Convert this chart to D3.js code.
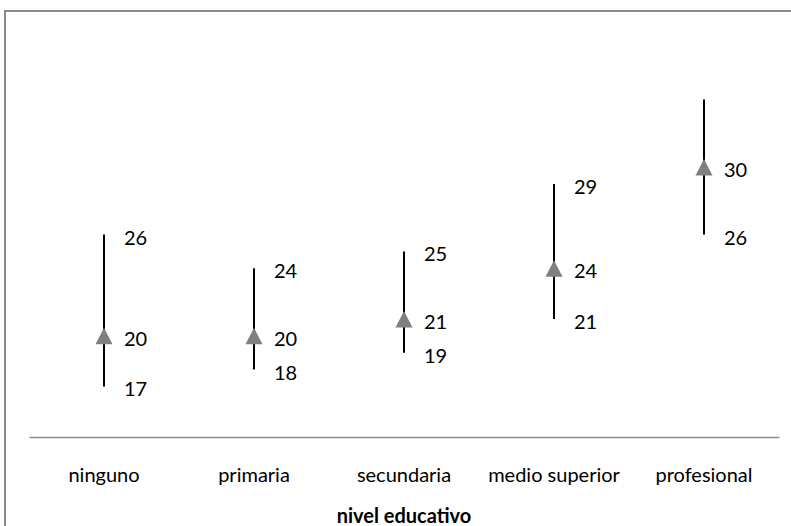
<!DOCTYPE html>
<html>
<head>
<meta charset="utf-8">
<script src="https://cdn.jsdelivr.net/npm/d3@7"></script>
<style>
  body { margin: 0; background: #fff; }
  svg { display: block; font-family: Lato, "Open Sans", sans-serif; }
</style>
</head>
<body>
<svg width="791" height="526"></svg>
<script>
// nivel educativo, valores maximo / promedio / minimo
const categories = ["ninguno", "primaria", "secundaria", "medio superior", "profesional"];
const highValues = [26, 24, 25, 29, 34];
const meanValues = [20, 20, 21, 24, 30];
const lowValues = [17, 18, 19, 21, 26];
// the top label of "profesional" is not shown in the chart
const highLabels = ["26", "24", "25", "29", null];

const data = categories.map((c, i) => ({
    cat: c, high: highValues[i], mean: meanValues[i], low: lowValues[i], highLabel: highLabels[i]
}));

const width = 791, height = 526;
const svg = d3.select("svg");

// chart frame (runs past the picture on the right and bottom)
svg.append("rect")
    .attr("x", 5).attr("y", 11)
    .attr("width", 820).attr("height", 560)
    .attr("fill", "none")
    .attr("stroke", "#8c8c8c")
    .attr("stroke-width", 2);

const x = d3.scaleBand()
    .domain(categories)
    .range([29, 779]);

const y = d3.scaleLinear()
    .domain([14, 38])
    .range([437, 32]);

// category axis
const xAxis = svg.append("g")
    .attr("transform", `translate(0,${y(14)})`)
    .call(d3.axisBottom(x).tickSize(0).tickSizeOuter(0).tickPadding(31));

xAxis.select(".domain")
    .attr("stroke", "#8c8c8c")
    .attr("stroke-width", 1.5);

xAxis.selectAll("text")
    .attr("font-family", "Lato, sans-serif")
    .attr("font-size", 20)
    .attr("fill", "#000");

// axis title
svg.append("text")
    .attr("x", (x.range()[0] + x.range()[1]) / 2)
    .attr("y", 523)
    .attr("text-anchor", "middle")
    .attr("font-size", 20)
    .attr("font-weight", "bold")
    .attr("fill", "#000")
    .text("nivel educativo");

const cx = d => x(d.cat) + x.bandwidth() / 2;

// high-low lines
svg.append("g")
    .selectAll("line")
    .data(data)
    .join("line")
    .attr("x1", cx).attr("x2", cx)
    .attr("y1", d => y(d.high))
    .attr("y2", d => y(d.low))
    .attr("stroke", "#000")
    .attr("stroke-width", 2);

// mean markers (triangles)
const tri = "M0,-8L8.5,8.5L-8.5,8.5Z";
svg.append("g")
    .selectAll("path")
    .data(data)
    .join("path")
    .attr("d", tri)
    .attr("transform", d => `translate(${cx(d)},${y(d.mean)})`)
    .attr("fill", "#808080");

// value labels
const labels = [];
data.forEach(d => {
    if (d.highLabel) labels.push({ d: d, v: d.high, t: d.highLabel });
    labels.push({ d: d, v: d.mean, t: String(d.mean) });
    labels.push({ d: d, v: d.low, t: String(d.low) });
});

svg.append("g")
    .selectAll("text")
    .data(labels)
    .join("text")
    .attr("x", l => cx(l.d) + 20)
    .attr("y", l => y(l.v) + 10)
    .attr("font-size", 20)
    .attr("fill", "#000")
    .text(l => l.t);
</script>
</body>
</html>
